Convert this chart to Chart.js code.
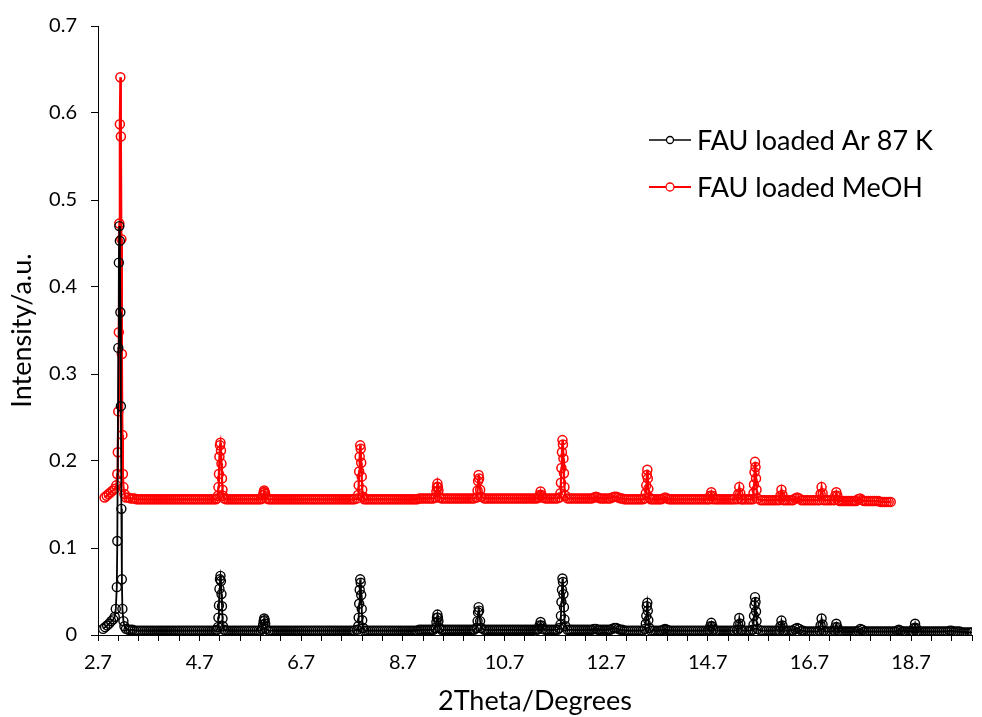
<!DOCTYPE html>
<html>
<head>
<meta charset="utf-8">
<script src="https://cdn.jsdelivr.net/npm/chart.js@4.4.1/dist/chart.umd.min.js"></script>
<style>
  html, body { margin: 0; padding: 0; background: #fff; }
</style>
</head>
<body>
<canvas id="xrdChart" width="982" height="717"></canvas>
<script>
const seriesNames = ['FAU loaded Ar 87 K', 'FAU loaded MeOH'];
const seriesColors = ['#000000', '#FF0000'];

const xTicks = [2.7, 4.7, 6.7, 8.7, 10.7, 12.7, 14.7, 16.7, 18.7];
const yTicks = [0, 0.1, 0.2, 0.3, 0.4, 0.5, 0.6, 0.7];

// baseline intensity (x1000) read every 0.04 degree from 3.30, one row = 1 degree
const baseStart = 3.3;
const baseStep = 0.04;
const arBase = [
  6, 6, 6, 5, 5, 5, 5, 5, 5, 5, 5, 5, 5, 5, 5, 5, 5, 5, 5, 5, 5, 5, 5, 5, 5,
  5, 5, 5, 5, 5, 5, 5, 5, 5, 5, 5, 5, 5, 5, 5, 5, 5, 5, 5, 5, 5, 5, 5, 5, 5,
  5, 5, 5, 5, 5, 5, 5, 5, 5, 5, 5, 5, 5, 5, 5, 5, 5, 5, 5, 5, 5, 5, 5, 5, 5,
  5, 5, 5, 5, 5, 5, 5, 5, 5, 5, 5, 5, 5, 5, 5, 5, 5, 5, 5, 5, 5, 5, 5, 5, 5,
  5, 5, 5, 5, 5, 5, 5, 5, 5, 5, 5, 5, 5, 5, 5, 5, 5, 5, 5, 5, 5, 5, 5, 5, 5,
  5, 5, 5, 5, 5, 5, 5, 5, 5, 5, 5, 5, 5, 5, 5, 5, 5, 5, 6, 6, 6, 6, 6, 6, 6,
  6, 6, 6, 6, 6, 6, 6, 6, 6, 6, 6, 6, 6, 6, 6, 6, 6, 6, 6, 6, 6, 6, 6, 6, 6,
  6, 6, 6, 6, 6, 6, 6, 6, 6, 6, 6, 6, 6, 6, 6, 6, 6, 6, 6, 6, 6, 6, 6, 6, 6,
  6, 6, 6, 6, 6, 6, 6, 6, 6, 6, 6, 6, 6, 6, 6, 6, 6, 6, 6, 6, 6, 6, 6, 6, 6,
  6, 6, 6, 6, 7, 7, 6, 6, 6, 6, 6, 6, 6, 7, 8, 8, 7, 6, 6, 5, 5, 5, 5, 5, 5,
  5, 5, 5, 5, 5, 5, 5, 5, 5, 5, 5, 5, 5, 6, 7, 6, 5, 5, 5, 5, 5, 5, 5, 5, 5,
  5, 5, 5, 5, 5, 5, 5, 5, 5, 5, 5, 5, 5, 5, 5, 5, 5, 5, 5, 5, 5, 5, 5, 5, 5,
  5, 5, 5, 5, 5, 5, 5, 5, 5, 5, 5, 5, 5, 5, 5, 5, 5, 5, 5, 5, 5, 5, 5, 5, 5,
  5, 5, 5, 7, 8, 7, 5, 5, 4, 4, 4, 4, 4, 4, 4, 4, 4, 4, 4, 4, 4, 4, 4, 4, 4,
  4, 4, 4, 4, 4, 4, 4, 4, 4, 5, 7, 6, 4, 4, 4, 4, 4, 4, 4, 4, 4, 4, 4, 4, 4,
  4, 4, 4, 5, 6, 5, 4, 4, 4, 4, 4, 4, 4, 4, 4, 4, 4, 4, 4, 4, 4, 4, 4, 4, 4,
  4, 4, 4, 4, 5, 5, 4, 4, 4, 4, 3, 3, 3, 3, 3, 3
];
const meohBase = [
  158, 157, 157, 157, 156, 156, 156, 156, 156, 156, 156, 156, 156, 156, 156, 156, 156, 156, 156, 156, 156, 156, 156, 156, 156,
  156, 156, 156, 156, 156, 156, 156, 156, 156, 156, 156, 156, 156, 156, 156, 156, 156, 156, 156, 156, 156, 156, 156, 156, 156,
  156, 156, 156, 156, 156, 156, 156, 156, 156, 156, 156, 156, 156, 156, 156, 156, 156, 156, 156, 156, 156, 156, 156, 156, 156,
  156, 156, 156, 156, 156, 156, 156, 156, 156, 156, 156, 156, 156, 156, 156, 156, 156, 156, 156, 156, 156, 156, 156, 156, 156,
  156, 156, 156, 156, 156, 156, 156, 156, 156, 156, 156, 156, 156, 156, 156, 156, 156, 156, 156, 156, 156, 156, 156, 156, 156,
  156, 156, 156, 156, 156, 156, 156, 156, 156, 156, 156, 156, 156, 156, 156, 156, 156, 156, 157, 157, 157, 157, 157, 157, 157,
  157, 157, 157, 157, 157, 157, 157, 157, 157, 157, 157, 157, 157, 157, 157, 157, 157, 157, 157, 157, 157, 157, 157, 157, 157,
  157, 157, 157, 157, 157, 157, 157, 157, 157, 157, 157, 157, 157, 157, 157, 157, 157, 157, 157, 157, 157, 157, 157, 157, 157,
  157, 157, 157, 157, 157, 157, 157, 157, 157, 157, 157, 157, 157, 157, 157, 157, 157, 157, 157, 157, 157, 157, 157, 157, 157,
  157, 157, 157, 157, 158, 159, 158, 157, 157, 157, 157, 157, 157, 158, 159, 159, 158, 157, 157, 156, 156, 156, 156, 156, 156,
  156, 156, 156, 156, 156, 156, 156, 156, 156, 156, 156, 156, 156, 157, 158, 157, 156, 156, 156, 156, 156, 156, 156, 156, 156,
  156, 156, 156, 156, 156, 156, 156, 156, 156, 156, 156, 156, 156, 156, 156, 156, 156, 156, 156, 156, 156, 156, 156, 156, 156,
  156, 156, 156, 156, 156, 156, 156, 156, 156, 156, 155, 155, 155, 155, 155, 155, 155, 155, 155, 155, 155, 155, 155, 155, 155,
  155, 155, 155, 157, 158, 157, 155, 155, 155, 155, 155, 155, 155, 155, 155, 155, 155, 155, 155, 155, 155, 155, 155, 155, 155,
  154, 154, 154, 154, 154, 154, 154, 154, 154, 156, 157, 155, 154, 154, 154, 154, 154, 154, 154, 154, 153, 153, 153, 153, 153,
  153
];

// reflections, [2theta, intensity]
const arPeaks = [
  [[2.80, 0.007], [2.84, 0.009], [2.88, 0.011], [2.92, 0.013], [2.96, 0.016], [3.00, 0.018],
   [3.03, 0.021], [3.05, 0.030], [3.07, 0.055], [3.08, 0.108], [3.10, 0.330], [3.11, 0.428],
   [3.12, 0.470], [3.13, 0.453], [3.14, 0.371], [3.15, 0.263], [3.16, 0.145], [3.17, 0.064],
   [3.18, 0.030], [3.20, 0.016], [3.22, 0.010], [3.25, 0.007]],
  [[5.04, 0.006], [5.06, 0.009], [5.07, 0.020], [5.08, 0.034], [5.09, 0.053], [5.10, 0.064],
   [5.11, 0.068], [5.12, 0.062], [5.13, 0.047], [5.14, 0.033], [5.15, 0.019], [5.16, 0.010], [5.18, 0.006]],
  [[5.93, 0.007], [5.95, 0.012], [5.96, 0.016], [5.97, 0.019], [5.98, 0.017], [5.99, 0.013], [6.01, 0.007]],
  [[7.80, 0.006], [7.82, 0.010], [7.83, 0.020], [7.84, 0.036], [7.85, 0.052], [7.86, 0.064],
   [7.87, 0.060], [7.88, 0.046], [7.89, 0.030], [7.90, 0.017], [7.92, 0.008]],
  [[9.34, 0.008], [9.36, 0.015], [9.37, 0.020], [9.38, 0.0235], [9.39, 0.020], [9.40, 0.016], [9.42, 0.008]],
  [[10.15, 0.008], [10.17, 0.016], [10.18, 0.026], [10.19, 0.032], [10.20, 0.028], [10.22, 0.016], [10.24, 0.008]],
  [[11.37, 0.007], [11.39, 0.011], [11.41, 0.015], [11.43, 0.011], [11.45, 0.007]],
  [[11.78, 0.008], [11.80, 0.012], [11.81, 0.022], [11.82, 0.038], [11.83, 0.052], [11.84, 0.065],
   [11.85, 0.061], [11.86, 0.047], [11.87, 0.032], [11.88, 0.018], [11.90, 0.010]],
  [[13.46, 0.007], [13.48, 0.013], [13.49, 0.022], [13.50, 0.033], [13.51, 0.037], [13.52, 0.028],
   [13.53, 0.017], [13.55, 0.008]],
  [[14.73, 0.006], [14.75, 0.010], [14.77, 0.014], [14.79, 0.010], [14.81, 0.006]],
  [[15.28, 0.006], [15.30, 0.012], [15.32, 0.0195], [15.34, 0.013], [15.36, 0.006]],
  [[15.58, 0.006], [15.60, 0.012], [15.61, 0.022], [15.62, 0.034], [15.63, 0.0435], [15.64, 0.038],
   [15.65, 0.027], [15.66, 0.016], [15.68, 0.007]],
  [[16.11, 0.005], [16.13, 0.010], [16.15, 0.0166], [16.17, 0.011], [16.19, 0.005]],
  [[16.90, 0.005], [16.92, 0.011], [16.94, 0.019], [16.96, 0.012], [16.98, 0.005]],
  [[17.19, 0.005], [17.21, 0.009], [17.23, 0.013], [17.25, 0.009], [17.27, 0.005]],
  [[18.74, 0.004], [18.76, 0.008], [18.78, 0.013], [18.80, 0.008], [18.82, 0.004]]
];
const meohPeaks = [
  [[2.83, 0.158], [2.87, 0.160], [2.91, 0.162], [2.95, 0.164], [2.99, 0.166], [3.03, 0.168],
   [3.06, 0.172], [3.08, 0.185], [3.09, 0.210], [3.10, 0.257], [3.11, 0.348], [3.12, 0.473],
   [3.13, 0.587], [3.14, 0.641], [3.15, 0.573], [3.16, 0.455], [3.17, 0.323], [3.18, 0.230],
   [3.19, 0.185], [3.20, 0.170], [3.22, 0.162], [3.25, 0.158]],
  [[5.04, 0.157], [5.06, 0.160], [5.07, 0.170], [5.08, 0.185], [5.09, 0.205], [5.10, 0.218],
   [5.11, 0.221], [5.12, 0.212], [5.13, 0.197], [5.14, 0.180], [5.15, 0.167], [5.16, 0.160], [5.18, 0.157]],
  [[5.93, 0.157], [5.95, 0.161], [5.96, 0.164], [5.97, 0.166], [5.98, 0.164], [5.99, 0.162], [6.01, 0.157]],
  [[7.80, 0.157], [7.82, 0.161], [7.83, 0.172], [7.84, 0.188], [7.85, 0.205], [7.86, 0.218],
   [7.87, 0.214], [7.88, 0.198], [7.89, 0.182], [7.90, 0.167], [7.92, 0.159]],
  [[9.34, 0.158], [9.36, 0.165], [9.37, 0.170], [9.38, 0.174], [9.39, 0.170], [9.40, 0.166], [9.42, 0.158]],
  [[10.15, 0.158], [10.17, 0.166], [10.18, 0.177], [10.19, 0.184], [10.20, 0.180], [10.22, 0.167], [10.24, 0.159]],
  [[11.37, 0.158], [11.39, 0.161], [11.41, 0.165], [11.43, 0.161], [11.45, 0.158]],
  [[11.78, 0.158], [11.80, 0.163], [11.81, 0.175], [11.82, 0.192], [11.83, 0.210], [11.84, 0.224],
   [11.85, 0.219], [11.86, 0.203], [11.87, 0.186], [11.88, 0.170], [11.90, 0.160]],
  [[13.46, 0.157], [13.48, 0.163], [13.49, 0.172], [13.50, 0.184], [13.51, 0.190], [13.52, 0.180],
   [13.53, 0.168], [13.55, 0.158]],
  [[14.73, 0.156], [14.75, 0.160], [14.77, 0.164], [14.79, 0.160], [14.81, 0.156]],
  [[15.28, 0.156], [15.30, 0.162], [15.32, 0.170], [15.34, 0.163], [15.36, 0.156]],
  [[15.58, 0.156], [15.60, 0.163], [15.61, 0.173], [15.62, 0.187], [15.63, 0.199], [15.64, 0.193],
   [15.65, 0.180], [15.66, 0.167], [15.68, 0.157]],
  [[16.11, 0.155], [16.13, 0.160], [16.15, 0.167], [16.17, 0.161], [16.19, 0.155]],
  [[16.90, 0.155], [16.92, 0.162], [16.94, 0.170], [16.96, 0.163], [16.98, 0.155]],
  [[17.19, 0.155], [17.21, 0.160], [17.23, 0.164], [17.25, 0.160], [17.27, 0.155]]
];

// merge baseline and peaks into one sorted point list
function buildSeries(base, peaks) {
  const ranges = peaks.map(p => [p[0][0] - 0.02, p[p.length - 1][0] + 0.02]);
  const pts = [];
  base.forEach((v, i) => {
    const x = Math.round((baseStart + i * baseStep) * 100) / 100;
    if (!ranges.some(r => x >= r[0] && x <= r[1])) pts.push({ x, y: v / 1000 });
  });
  peaks.forEach(p => p.forEach(([x, y]) => pts.push({ x, y })));
  return pts.sort((a, b) => a.x - b.x);
}

const FONT = 'Lato';

// legend drawn inside the plot, excel style
const insideLegend = {
  id: 'insideLegend',
  afterDraw(chart) {
    const ctx = chart.ctx;
    ctx.save();
    ctx.font = '27px ' + FONT;
    ctx.textBaseline = 'middle';
    seriesNames.forEach((name, i) => {
      const y = 140 + i * 47;
      ctx.strokeStyle = seriesColors[i];
      ctx.lineWidth = i ? 2 : 1.5;
      ctx.beginPath();
      ctx.moveTo(649, y);
      ctx.lineTo(691, y);
      ctx.stroke();
      ctx.beginPath();
      ctx.arc(670, y, i ? 4 : 3.5, 0, Math.PI * 2);
      ctx.fillStyle = '#fff';
      ctx.fill();
      ctx.lineWidth = 1.3;
      ctx.stroke();
      ctx.fillStyle = '#000';
      ctx.fillText(name, 697, y + 1);
    });
    ctx.restore();
  }
};

const ctx = document.getElementById('xrdChart').getContext('2d');
const xrdChart = new Chart(ctx, {
  type: 'line',
  data: {
    datasets: [
      {
        label: seriesNames[0],
        data: buildSeries(arBase, arPeaks),
        borderColor: seriesColors[0],
        borderWidth: 1.8,
        pointRadius: 4.5,
        pointBorderWidth: 1.4,
        pointBorderColor: seriesColors[0],
        pointBackgroundColor: 'rgba(0,0,0,0)',
        tension: 0
      },
      {
        label: seriesNames[1],
        data: buildSeries(meohBase, meohPeaks),
        borderColor: seriesColors[1],
        borderWidth: 2.2,
        pointRadius: 4.5,
        pointBorderWidth: 1.5,
        pointBorderColor: seriesColors[1],
        pointBackgroundColor: 'rgba(0,0,0,0)',
        tension: 0
      }
    ]
  },
  options: {
    responsive: false,
    animation: false,
    devicePixelRatio: 1,
    layout: { padding: { top: 23, left: 0, right: 0, bottom: 0 } },
    plugins: {
      legend: { display: false },
      tooltip: { enabled: false }
    },
    scales: {
      x: {
        type: 'linear',
        min: 2.7,
        max: 19.9,
        afterFit(scale) { scale.height = 82; },
        afterBuildTicks(scale) {
          // minor ticks every 0.4, labels only on the majors
          const ticks = [];
          for (let k = 0; k <= 43; k++) {
            ticks.push({ value: Math.round((2.7 + k * 0.4) * 10) / 10 });
          }
          scale.ticks = ticks;
        },
        ticks: {
          autoSkip: false,
          maxRotation: 0,
          padding: 10,
          color: '#000',
          font: { family: FONT, size: 20 },
          callback: (value) => xTicks.some(t => Math.abs(t - value) < 1e-6) ? value.toFixed(1) : ''
        },
        grid: { drawOnChartArea: false, drawTicks: true, tickLength: 6, color: '#000' },
        border: { display: true, color: '#000', width: 1 },
        title: {
          display: true,
          text: '2Theta/Degrees',
          color: '#000',
          font: { family: FONT, size: 27 },
          padding: { top: 0, bottom: 0 }
        }
      },
      y: {
        min: 0,
        max: 0.7,
        afterFit(scale) { scale.width = 98; },
        afterBuildTicks(scale) {
          scale.ticks = yTicks.map(v => ({ value: v }));
        },
        ticks: {
          padding: 14,
          color: '#000',
          font: { family: FONT, size: 20 },
          callback: (value) => value === 0 ? '0' : value.toFixed(1)
        },
        grid: { drawOnChartArea: false, drawTicks: true, tickLength: 7, color: '#000' },
        border: { display: true, color: '#000', width: 1 },
        title: {
          display: true,
          text: 'Intensity/a.u.',
          color: '#000',
          font: { family: FONT, size: 27 },
          padding: { top: 6, bottom: 0 }
        }
      }
    }
  },
  plugins: [insideLegend]
});
</script>
</body>
</html>
